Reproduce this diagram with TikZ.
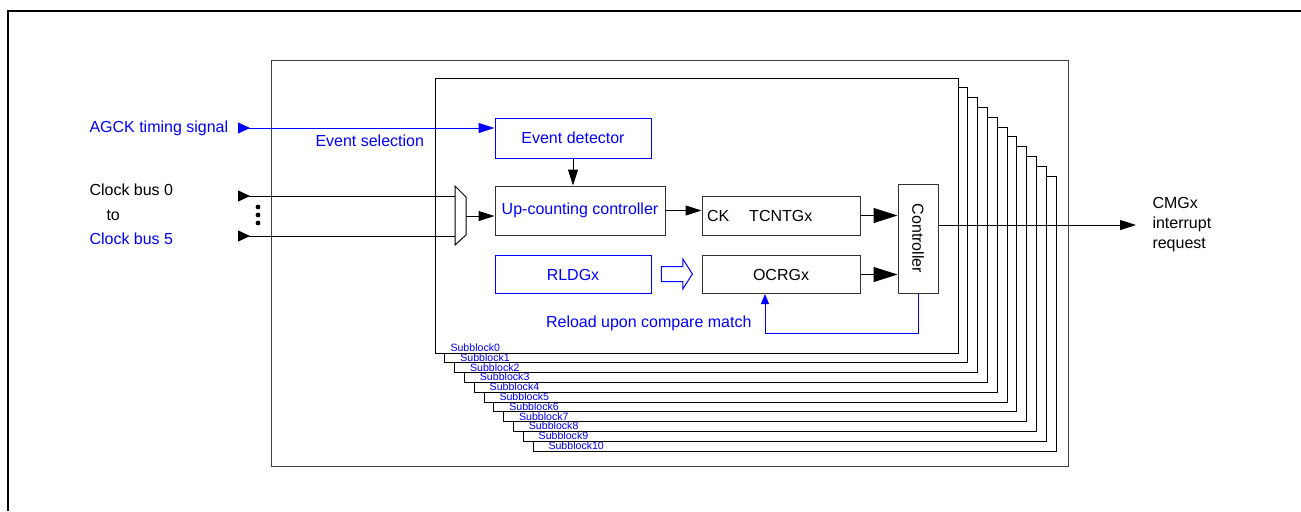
\documentclass[tikz,border=0pt]{standalone}
\usepackage{fontspec}
\setmainfont{Liberation Sans}
\usetikzlibrary{arrows.meta, positioning, shapes.arrows}
\newcommand{\normfont}{\fontsize{8}{10}\selectfont}
\newcommand{\subfont}{\fontsize{5.3}{6}\selectfont}
\tikzset{
    block/.style={rectangle, draw=black!80, fill=white, inner sep=0pt, text centered, font=\normfont},
    blueblock/.style={block, draw=blue, text=blue},
    txt/.style={inner sep=0pt, font=\normfont},
    bluetxt/.style={txt, text=blue},
    sublabel/.style={inner sep=0pt, font=\subfont, text=blue, anchor=base west},
    arrow/.style={-{Triangle[length=8pt, width=5pt]}},
    bigarrow/.style={-{Triangle[length=12pt, width=7.5pt]}},
    bluearrow/.style={-{Triangle[length=5pt, width=4pt]}, draw=blue},
    inarrow/.style={{Triangle[reversed, length=6pt, width=5.5pt]}-},
}
\begin{document}
\begin{tikzpicture}[x=0.5pt, y=-0.5pt, line width=0.5pt]
    \useasboundingbox (0,0) rectangle (1301,511);
    % frame
    \draw[line width=1.3pt] (8,511) -- (8,11) -- (1301,11);
    \draw[draw=black!75] (271,60) rectangle (1068,466);

    % stacked subblocks
    \foreach \i in {10,...,0} {
        \draw[fill=white] ({435+9.8*\i},{78+9.8*\i}) rectangle ({958+9.8*\i},{353+9.8*\i});
        \node[sublabel] at ({450+9.8*\i},{351.5+9.8*\i}) {Subblock\i};
    }

    % blocks
    \node[blueblock, minimum width=78pt, minimum height=20pt] (evdet) at (573,138) {Event detector};
    \node[block, text=blue, minimum width=85pt, minimum height=24.5pt] (upcnt) at (580,210.5) {Up-counting controller};
    \node[blueblock, minimum width=78pt, minimum height=19pt] (rldg) at (573,274.5) {RLDGx};
    \node[block, text width=74pt, align=left, inner xsep=2.5pt, minimum height=19.5pt] (tcnt) at (781,215.5) {CK\hspace{10pt}TCNTGx};
    \node[block, minimum width=79pt, minimum height=19pt] (ocrg) at (781,274.5) {OCRGx};
    \node[block, minimum width=20pt, minimum height=54.5pt] (ctrl) at (918,238.5) {};
    \node[txt, rotate=-90] at (ctrl.center) {Controller};
    \node[single arrow, draw=blue, fill=white, inner sep=0pt, text height=7pt, text depth=0pt,
          minimum height=15.5pt, single arrow head extend=3.75pt, single arrow tip angle=115] (load) at (674.5,274) {};

    % mux
    \draw (455,186) -- (466,197) -- (466,235) -- (455,245) -- cycle;
    \coordinate (muxout) at (466,216);
    \coordinate (mux0) at (455,196);
    \coordinate (mux5) at (455,236);

    % inputs
    \node[bluetxt, anchor=west] (agck) at (89,128) {AGCK timing signal};
    \node[bluetxt, anchor=west] (evsel) at (315,141) {Event selection};
    \node[txt, anchor=west] (clk0) at (89,190) {Clock bus 0};
    \node[txt, anchor=west] (clkto) at (106,215) {to};
    \node[bluetxt, anchor=west] (clk5) at (89,239) {Clock bus 5};
    \coordinate (agckin) at (238,128);
    \coordinate (clk0in) at (238,196);
    \coordinate (clk5in) at (238,236);
    \foreach \y in {207,215,223}
        \fill (258,\y) circle (2.4);

    % outputs
    \coordinate (irq) at (1136,225);
    \node[txt, anchor=north west, align=left] (cmg) at (1152,197) {CMGx\\interrupt\\request};
    \node[bluetxt, anchor=east] (reload) at (752,323) {Reload upon compare match};
    \coordinate (fbturn) at (765,333);

    % connectors
    \draw[blue, {Triangle[reversed, length=6pt, width=5.5pt]}-{Triangle[length=8pt, width=5pt]}] (agckin) -- (evdet.west |- agckin);
    \draw[inarrow] (clk0in) -- (mux0);
    \draw[inarrow] (clk5in) -- (mux5);
    \draw[arrow] (muxout) -- (upcnt.west |- muxout);
    \draw[arrow] (evdet.south) -- (evdet.south |- upcnt.north);
    \draw[arrow] (upcnt.east) -- (upcnt.east -| tcnt.west);
    \draw[bigarrow] (tcnt.east) -- (tcnt.east -| ctrl.west);
    \draw[bigarrow] (ocrg.east) -- (ocrg.east -| ctrl.west);
    \draw[arrow] (ctrl.east |- irq) -- (irq);
    \draw[bluearrow] (ctrl.south) |- (fbturn) -- (fbturn |- ocrg.south);
\end{tikzpicture}
\end{document}
